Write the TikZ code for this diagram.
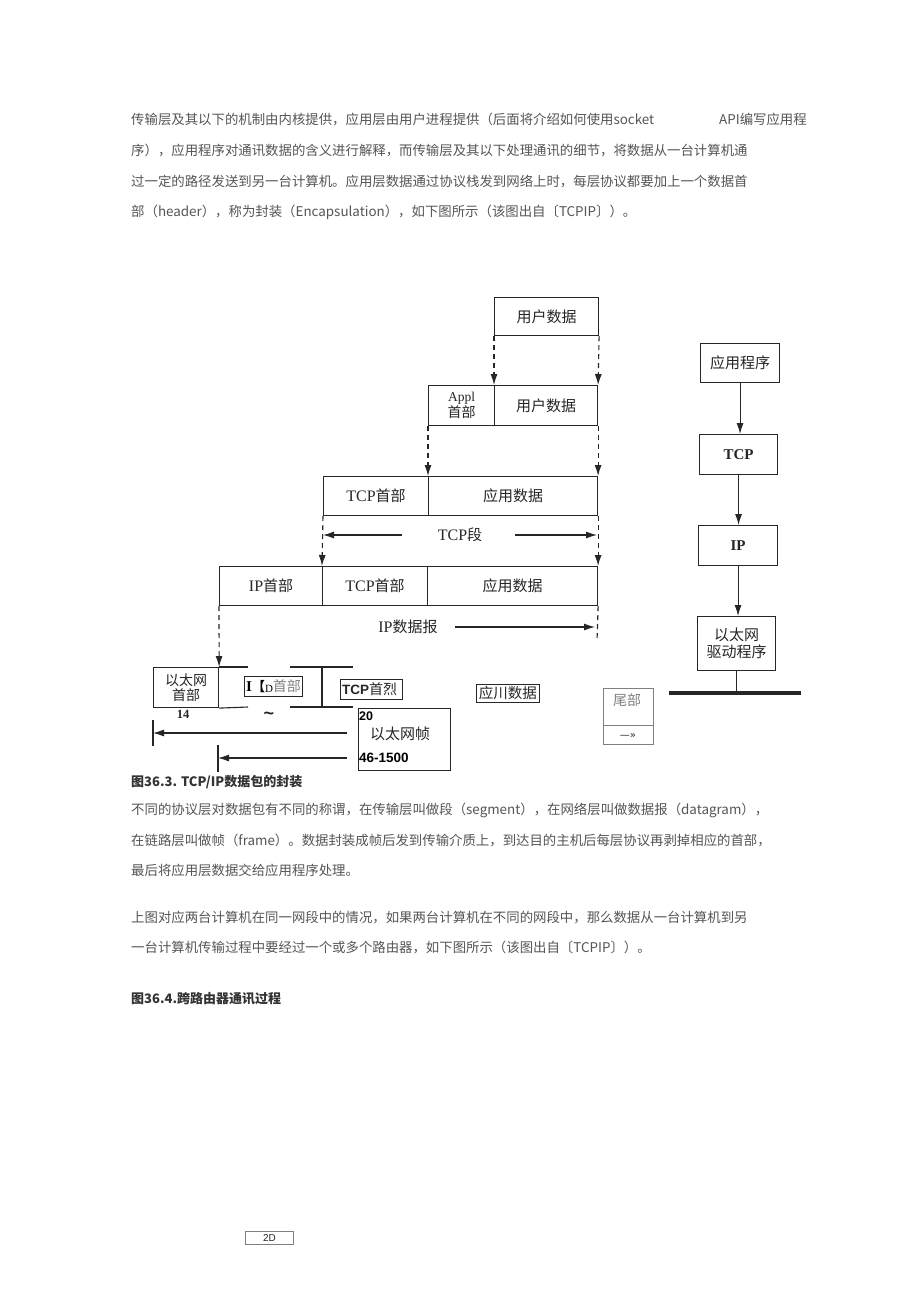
\documentclass[tikz,border=0pt]{standalone}
\usepackage{fontspec}
\setmainfont{Liberation Sans}
\newfontfamily\cjk{Noto Sans CJK SC}
\newfontfamily\ser{Liberation Serif}
\newfontfamily\sym{DejaVu Sans}
\usetikzlibrary{arrows.meta}
\definecolor{lc}{HTML}{262626}
\definecolor{bodyc}{HTML}{555555}
\definecolor{capc}{HTML}{333333}
\begin{document}
\begin{tikzpicture}[x=1pt,y=-1pt,
  body/.style={anchor=base west, inner sep=0pt, text=bodyc, font=\cjk\fontsize{13.4}{16}\selectfont},
  captext/.style={anchor=base west, inner sep=0pt, text=capc, font=\cjk\bfseries\fontsize{13}{16}\selectfont},
  cell/.style={draw=lc, line width=1.1pt, inner sep=0pt, anchor=north west, text=lc, align=center, font=\cjk\fontsize{15}{17}\selectfont},
  thinbox/.style={draw=lc, line width=0.8pt, inner sep=0pt, anchor=north west, text=lc},
  dasharrow/.style={draw=lc, line width=1.1pt, dash pattern=on 5pt off 4pt, -{Latex[length=11pt,width=7pt]}},
  dashline/.style={draw=lc, line width=1.1pt, dash pattern=on 5pt off 4pt},
  arr/.style={draw=lc, line width=1.1pt, -{Latex[length=11pt,width=7pt]}},
  ln/.style={draw=lc, line width=1.1pt},
  lbl/.style={text=lc, inner sep=0pt, font=\cjk\fontsize{15}{17}\selectfont}
]
\useasboundingbox[fill=white] (0,0) rectangle (920,1302);

% ---------- body text top ----------
\node[body] (t1) at (131,124) {传输层及其以下的机制由内核提供，应用层由用户进程提供（后面将介绍如何使用socket};
\node[body] (t1b) at (719,124) {API编写应用程};
\node[body] (t2) at (131,155) {序），应用程序对通讯数据的含义进行解释，而传输层及其以下处理通讯的细节，将数据从一台计算机通};
\node[body] (t3) at (131,186) {过一定的路径发送到另一台计算机。应用层数据通过协议栈发到网络上时，每层协议都要加上一个数据首};
\node[body] (t4) at (131,216) {部（header），称为封装（Encapsulation），如下图所示（该图出自〔TCPIP〕）。};

% ---------- encapsulation diagram ----------
\node[cell, minimum width=104, minimum height=38] (r1) at (494,297) {用户数据};

\node[cell, minimum width=66, minimum height=40, font=\cjk\fontsize{14}{15}\selectfont] (r2a) at (428,385) {{\ser\fontsize{13.5}{15}\selectfont Appl}\\[1pt]首部};
\node[cell, minimum width=103, minimum height=40] (r2b) at (494,385) {用户数据};

\node[cell, minimum width=105, minimum height=39] (r3a) at (323,476) {{\ser\fontsize{16}{16}\selectfont TCP}首部};
\node[cell, minimum width=169, minimum height=39] (r3b) at (428,476) {应用数据};

\node[cell, minimum width=103, minimum height=39] (r4a) at (219,566) {{\ser\fontsize{16}{16}\selectfont IP}首部};
\node[cell, minimum width=105, minimum height=39] (r4b) at (322,566) {{\ser\fontsize{16}{16}\selectfont TCP}首部};
\node[cell, minimum width=170, minimum height=39] (r4c) at (427,566) {应用数据};

\node[cell, minimum width=65, minimum height=40, font=\cjk\fontsize{14}{14.5}\selectfont] (r5a) at (153,667) {以太网\\首部};

% dashed drops
\draw[dasharrow] (r1.south west) -- (r2b.north west);
\draw[dasharrow] (r1.south east) -- (r2b.north east);
\draw[dasharrow] (r2a.south west) -- (r3b.north west);
\draw[dasharrow] (r2b.south east) -- (r3b.north east);
\draw[dasharrow] (r3a.south west) -- (r4b.north west);
\draw[dasharrow] (r3b.south east) -- (r4c.north east);
\draw[dasharrow] (r4a.south west) -- (r5a.north east);
\coordinate (ipR) at (597,642);
\draw[dashline] (r4c.south east) -- (ipR);

% TCP segment
\node[lbl] (seg) at (460,535) {{\ser\fontsize{16}{16}\selectfont TCP}段};
\coordinate (segLs) at (402,535);
\coordinate (segL) at (323,535);
\coordinate (segRs) at (515,535);
\coordinate (segR) at (597,535);
\draw[arr] (segLs) -- (segL);
\draw[arr] (segRs) -- (segR);

% IP datagram
\node[lbl] (ipd) at (408,627) {{\ser\fontsize{16}{16}\selectfont IP}数据报};
\coordinate (ipdS) at (455,627);
\coordinate (ipdE) at (595,627);
\draw[arr] (ipdS) -- (ipdE);

% ethernet frame row (broken)
\coordinate (e1) at (248,667);
\coordinate (e2) at (248,707);
\coordinate (e3) at (290,667);
\coordinate (e4) at (353,667);
\coordinate (e5) at (290,707);
\coordinate (e6) at (353,707);
\coordinate (e7) at (322,667);
\coordinate (e8) at (322,707);
\draw[ln] (r5a.north east) -- (e1);
\draw[ln] (r5a.south east) -- (e2);
\draw[ln] (e3) -- (e4);
\draw[ln] (e5) -- (e6);
\draw[ln] (e7) -- (e8);

\node[thinbox, minimum width=58, minimum height=20] (ipbox) at (244,676) {};
\node[inner sep=0pt, anchor=west] (iptxt) at (246,686) {{\ser\bfseries\fontsize{15}{15}\selectfont I}{\cjk\bfseries\fontsize{13}{13}\selectfont 【}\raisebox{-1pt}{\ser\fontsize{11}{11}\selectfont D}{\cjk\color{gray}\fontsize{14}{14}\selectfont 首部}};

\node[thinbox, minimum width=62, minimum height=20] (tcpbox) at (340,679) {};
\node[inner sep=0pt, anchor=west, text=lc] (tcptxt) at (342,689) {{\bfseries\fontsize{13.5}{14}\selectfont TCP}{\cjk\fontsize{14}{14}\selectfont 首烈}};

\node[inner sep=0pt, text=lc, font=\ser\bfseries\fontsize{12.5}{12}\selectfont] (n14) at (183,714) {14};
\node[inner sep=0pt, text=lc, font=\bfseries\fontsize{18}{18}\selectfont] (tilde) at (269,716) {\textasciitilde};

\node[thinbox, minimum width=92, minimum height=62] (framebox) at (358,708) {};
\node[inner sep=0pt, anchor=west, text=black, font=\bfseries\fontsize{12.5}{12}\selectfont] (n20) at (359,716) {20};
\node[inner sep=0pt, text=lc, font=\cjk\fontsize{15}{15}\selectfont] (frametxt) at (400,734) {以太网帧};
\node[inner sep=0pt, anchor=west, text=black, font=\bfseries\fontsize{13.5}{13}\selectfont] (n46) at (359,758) {46-1500};

\coordinate (fa1s) at (347,733);
\coordinate (fa1e) at (153,733);
\coordinate (fa2s) at (347,758);
\coordinate (fa2e) at (218,758);
\coordinate (tk1a) at (153,720);
\coordinate (tk1b) at (153,746);
\coordinate (tk2a) at (218,745);
\coordinate (tk2b) at (218,772);
\draw[arr] (fa1s) -- (fa1e);
\draw[arr] (fa2s) -- (fa2e);
\draw[ln] (tk1a) -- (tk1b);
\draw[ln] (tk2a) -- (tk2b);

\node[thinbox, minimum width=63, minimum height=18, font=\cjk\fontsize{14.5}{14}\selectfont] (yy) at (476,684) {应川数据};

\node[thinbox, minimum width=50, minimum height=56, draw=gray] (tail) at (603,688) {};
\coordinate (tdL) at (603,725);
\coordinate (tdR) at (653,725);
\draw[draw=gray, line width=0.8pt] (tdL) -- (tdR);
\node[inner sep=0pt, text=gray, font=\cjk\fontsize{14}{14}\selectfont] (tailtxt) at (627,700) {尾部};
\node[inner sep=0pt, text=lc, font=\sym\fontsize{10}{10}\selectfont] (tailarr) at (628,736) {—»};

% ---------- right stack ----------
\node[cell, minimum width=79, minimum height=39] (c1) at (700,343) {应用程序};
\node[cell, minimum width=78, minimum height=40, font=\ser\bfseries\fontsize{15}{15}\selectfont] (c2) at (699,434) {TCP};
\node[cell, minimum width=79, minimum height=40, font=\ser\bfseries\fontsize{15}{15}\selectfont] (c3) at (698,525) {IP};
\node[cell, minimum width=78, minimum height=54] (c4) at (697,616) {以太网\\驱动程序};
\draw[arr] (c1.south) -- (c1.south |- c2.north);
\draw[arr] (c2.south) -- (c2.south |- c3.north);
\draw[arr] (c3.south) -- (c3.south |- c4.north);
\coordinate (bus) at (c4.south |- 0,693);
\coordinate (busL) at (669,693);
\coordinate (busR) at (801,693);
\draw[ln] (c4.south) -- (bus);
\draw[draw=lc, line width=3.2pt] (busL) -- (busR);

% ---------- lower text ----------
\node[captext] (cap1) at (131,786) {图36.3. TCP/IP数据包的封装};
\node[body] (p1) at (131,814) {不同的协议层对数据包有不同的称谓，在传输层叫做段（segment），在网络层叫做数据报（datagram），};
\node[body] (p2) at (131,845) {在链路层叫做帧（frame）。数据封装成帧后发到传输介质上，到达目的主机后每层协议再剥掉相应的首部，};
\node[body] (p3) at (131,875) {最后将应用层数据交给应用程序处理。};
\node[body] (p4) at (131,922) {上图对应两台计算机在同一网段中的情况，如果两台计算机在不同的网段中，那么数据从一台计算机到另};
\node[body] (p5) at (131,952) {一台计算机传输过程中要经过一个或多个路由器，如下图所示（该图出自〔TCPIP〕）。};
\node[captext] (cap2) at (131,1003) {图36.4.跨路由器通讯过程};

\node[thinbox, minimum width=48, minimum height=13, draw=gray, font=\fontsize{10}{10}\selectfont] (pg) at (245,1231) {2D};
\end{tikzpicture}
\end{document}
